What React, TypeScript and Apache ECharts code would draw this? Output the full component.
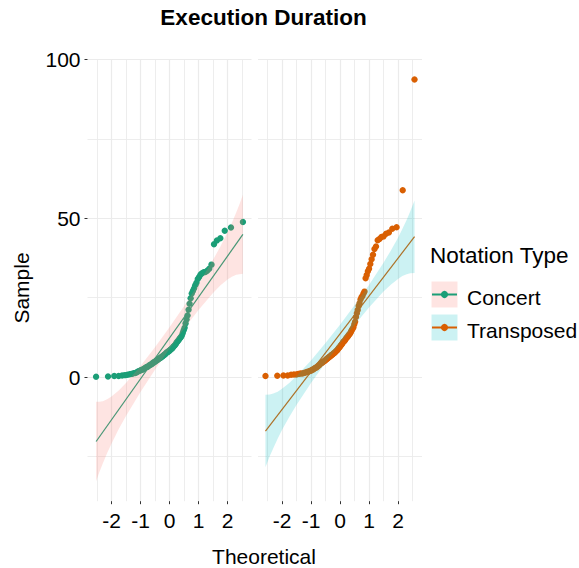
import React, { useEffect, useRef } from "react";
import * as echarts from "echarts";

// ---------- data ----------
const groups = ["Concert", "Transposed"];
const groupColors = ["#1B9E77", "#D95F02"];
const bandFills = ["#F8766D", "#00BFC4"];

// sorted sample values (y) of each QQ panel
const concertSample = [
  0.1, 0.2, 0.3, 0.3, 0.5, 0.6, 0.7, 0.9, 1.0, 1.2,
  1.3, 1.5, 1.8, 2.0, 2.2, 2.3, 2.6, 2.8, 3.1, 3.2,
  3.4, 3.7, 3.9, 4.0, 4.3, 4.6, 4.7, 4.9, 5.2, 5.3,
  5.5, 5.8, 5.9, 6.1, 6.4, 6.5, 6.7, 7.0, 7.1, 7.4,
  7.7, 7.8, 8.0, 8.3, 8.4, 8.7, 8.9, 9.1, 9.5, 9.8,
  10.0, 10.4, 10.9, 11.2, 11.5, 11.9, 12.3, 12.6, 13.1, 13.9,
  14.7, 15.5, 16.9, 18.1, 19.4, 21.2, 23.1, 24.8, 26.3, 27.1,
  27.9, 28.9, 29.7, 30.9, 31.5, 32.3, 32.7, 33.0, 33.1, 33.5,
  34.1, 35.4, 41.8, 43.0, 43.7, 46.1, 47.1, 48.8,
];
const transposedSample = [
  0.3, 0.4, 0.5, 0.5, 0.7, 0.8, 0.8, 1.0, 1.1, 1.1,
  1.3, 1.4, 1.6, 1.7, 1.9, 2.0, 2.3, 2.4, 2.7, 2.9,
  3.0, 3.3, 3.6, 3.8, 4.2, 4.4, 4.5, 4.8, 5.0, 5.1,
  5.4, 5.7, 5.8, 6.0, 6.3, 6.4, 6.6, 6.9, 7.0, 7.2,
  7.5, 7.6, 7.8, 8.1, 8.3, 8.5, 8.9, 9.2, 9.4, 9.8,
  10.1, 10.3, 10.7, 11.1, 11.3, 11.5, 11.9, 12.3, 12.5, 12.8,
  13.2, 13.5, 13.8, 14.3, 14.8, 15.2, 15.7, 16.6, 17.4, 18.9,
  20.1, 21.1, 22.4, 23.2, 24.4, 25.1, 25.5, 26.3, 26.9, 31.1,
  32.1, 33.3, 34.1, 35.6, 37.1, 38.5, 40.3, 41.1, 43.1, 43.5,
  44.1, 44.3, 45.1, 45.5, 46.7, 47.2, 58.8, 93.7,
];

// reference lines (theoretical endpoints, sample endpoints)
const concertLineX = [-2.53, 2.53];
const concertLineY = [-20.3, 44.9];
const transposedLineX = [-2.57, 2.57];
const transposedLineY = [-17.0, 44.2];

// confidence bands
const concertBandX = [-2.53, -2.42, -2.3, -2.15, -2, -1.75, -1.5, -1, -0.5, 0, 0.5, 1, 1.5, 1.75, 2, 2.15, 2.3, 2.42, 2.53];
const concertBandLow = [-32.8, -30.0, -27.2, -23.9, -21.0, -16.4, -12.3, -4.7, 2.3, 8.9, 15.2, 21.1, 26.5, 28.8, 30.7, 31.6, 32.2, 32.4, 32.5];
const concertBandHigh = [-7.8, -7.8, -7.6, -7.0, -6.1, -4.2, -1.9, 3.5, 9.4, 15.7, 22.3, 29.3, 36.9, 41.0, 45.6, 48.5, 51.8, 54.6, 57.4];
const transposedBandX = [-2.57, -2.42, -2.3, -2.15, -2, -1.75, -1.5, -1, -0.5, 0, 0.5, 1, 1.5, 1.75, 2, 2.15, 2.3, 2.42, 2.57];
const transposedBandLow = [-28.4, -24.9, -22.4, -19.4, -16.7, -12.6, -8.8, -1.9, 4.5, 10.6, 16.4, 21.9, 26.9, 29.1, 30.9, 31.8, 32.4, 32.7, 32.8];
const transposedBandHigh = [-5.6, -5.5, -5.2, -4.6, -3.7, -1.9, 0.3, 5.2, 10.7, 16.5, 22.6, 29.0, 36.0, 39.8, 43.9, 46.6, 49.5, 52.1, 55.6];

// axes
const xMajorTicks = [-2, -1, 0, 1, 2];
const xMinorTicks = [-2.5, -1.5, -0.5, 0.5, 1.5, 2.5];
const yMajorTicks = [0, 50, 100];
const yMinorTicks = [-25, 25, 75];
const xLimits = [-2.827, 2.827];
const yLimits = [-39.1, 100.0];

const titleText = "Execution Duration";
const xTitle = "Theoretical";
const yTitle = "Sample";
const legendTitle = "Notation Type";

// ---------- QQ stat: theoretical normal quantiles of ppoints(n) ----------
function qnorm(p: number): number {
  const a = [-3.969683028665376e1, 2.209460984245205e2, -2.759285104469687e2, 1.38357751867269e2, -3.066479806614716e1, 2.506628277459239];
  const b = [-5.447609879822406e1, 1.615858368580409e2, -1.556989798598866e2, 6.680131188771972e1, -1.328068155288572e1];
  const c = [-7.784894002430293e-3, -3.223964580411365e-1, -2.400758277161838, -2.549732539343734, 4.374664141464968, 2.938163982698783];
  const d = [7.784695709041462e-3, 3.224671290700398e-1, 2.445134137142996, 3.754408661907416];
  const plow = 0.02425;
  if (p < plow) {
    const q = Math.sqrt(-2 * Math.log(p));
    return (((((c[0] * q + c[1]) * q + c[2]) * q + c[3]) * q + c[4]) * q + c[5]) / ((((d[0] * q + d[1]) * q + d[2]) * q + d[3]) * q + 1);
  }
  if (p > 1 - plow) {
    const q = Math.sqrt(-2 * Math.log(1 - p));
    return -(((((c[0] * q + c[1]) * q + c[2]) * q + c[3]) * q + c[4]) * q + c[5]) / ((((d[0] * q + d[1]) * q + d[2]) * q + d[3]) * q + 1);
  }
  const q = p - 0.5;
  const r = q * q;
  return ((((((a[0] * r + a[1]) * r + a[2]) * r + a[3]) * r + a[4]) * r + a[5]) * q) / (((((b[0] * r + b[1]) * r + b[2]) * r + b[3]) * r + b[4]) * r + 1);
}
function qqPairs(sample: number[]): number[][] {
  const n = sample.length;
  return sample.map((v, i) => [qnorm((i + 1 - 0.5) / n), v]);
}

const FONT = '"Liberation Sans", Arial, Helvetica, sans-serif';
const GRID_LEFT = [87.5, 258];
const GRID_TOP = 59.5;
const GRID_W = 164;
const GRID_H = 441.7;
const GRIDLINE = "#EBEBEB";

export default function App() {
  const ref = useRef<HTMLDivElement>(null);

  useEffect(() => {
    if (!ref.current) return;
    const chart = echarts.init(ref.current, undefined, { renderer: "svg" });

    const samples = [concertSample, transposedSample];
    const lineXs = [concertLineX, transposedLineX];
    const lineYs = [concertLineY, transposedLineY];
    const bandXs = [concertBandX, transposedBandX];
    const bandLows = [concertBandLow, transposedBandLow];
    const bandHighs = [concertBandHigh, transposedBandHigh];

    const grid: any[] = [];
    const xAxis: any[] = [];
    const yAxis: any[] = [];
    const series: any[] = [];

    for (let g = 0; g < 2; g++) {
      grid.push({ left: GRID_LEFT[g], top: GRID_TOP, width: GRID_W, height: GRID_H, containLabel: false });
      // major x
      xAxis.push({
        type: "value", gridIndex: g, min: xLimits[0], max: xLimits[1], position: "bottom",
        axisLine: { show: false, onZero: false },
        axisTick: { show: true, customValues: xMajorTicks, length: 3, lineStyle: { color: "#333", width: 1 } },
        axisLabel: { show: true, customValues: xMajorTicks, fontSize: 21, color: "#000", fontFamily: FONT, margin: 9 },
        splitLine: { show: true, lineStyle: { color: GRIDLINE, width: 1.2 } },
      });
      // minor x
      xAxis.push({
        type: "value", gridIndex: g, min: xLimits[0], max: xLimits[1], position: "bottom",
        axisLine: { show: false, onZero: false },
        axisTick: { show: false, customValues: xMinorTicks },
        axisLabel: { show: false, customValues: xMinorTicks },
        splitLine: { show: true, lineStyle: { color: GRIDLINE, width: 0.9 } },
      });
      // major y
      yAxis.push({
        type: "value", gridIndex: g, min: yLimits[0], max: yLimits[1], position: "left",
        axisLine: { show: false, onZero: false },
        axisTick: { show: g === 0, customValues: yMajorTicks, length: 3, lineStyle: { color: "#333", width: 1 } },
        axisLabel: { show: g === 0, customValues: yMajorTicks, fontSize: 21, color: "#000", fontFamily: FONT, margin: 7 },
        splitLine: { show: true, lineStyle: { color: GRIDLINE, width: 1.2 } },
      });
      // minor y
      yAxis.push({
        type: "value", gridIndex: g, min: yLimits[0], max: yLimits[1], position: "left",
        axisLine: { show: false, onZero: false },
        axisTick: { show: false, customValues: yMinorTicks },
        axisLabel: { show: false, customValues: yMinorTicks },
        splitLine: { show: true, lineStyle: { color: GRIDLINE, width: 0.9 } },
      });

      const xi = g * 2;
      const yi = g * 2;
      series.push({
        name: groups[g], type: "scatter", xAxisIndex: xi, yAxisIndex: yi, z: 2,
        symbol: "circle", symbolSize: 6.4,
        itemStyle: { color: groupColors[g], opacity: 1 },
        data: qqPairs(samples[g]),
        silent: true,
      });
      series.push({
        name: groups[g] + " line", type: "line", xAxisIndex: xi, yAxisIndex: yi, z: 3,
        symbol: "none", showSymbol: false,
        lineStyle: { color: groupColors[g], width: 1.2 },
        data: lineXs[g].map((x, i) => [x, lineYs[g][i]]),
        silent: true,
      });
      const bx = bandXs[g];
      const blo = bandLows[g];
      const bhi = bandHighs[g];
      const fill = bandFills[g];
      series.push({
        name: groups[g] + " band", type: "custom", xAxisIndex: xi, yAxisIndex: yi, z: 4,
        silent: true,
        encode: { x: 0, y: [1, 2] },
        data: bx.map((x, i) => [x, blo[i], bhi[i]]),
        renderItem: (params: any, api: any) => {
          if (params.dataIndex !== 0) return null;
          const pts: number[][] = [];
          for (let i = 0; i < bx.length; i++) pts.push(api.coord([bx[i], bhi[i]]));
          for (let i = bx.length - 1; i >= 0; i--) pts.push(api.coord([bx[i], blo[i]]));
          return {
            type: "polygon",
            shape: { points: pts, smooth: 0 },
            style: { fill, opacity: 0.2, stroke: "none" },
          };
        },
      });
    }

    const textBase = { fontFamily: FONT, fill: "#000" };
    const legendKeyY = [294.5, 327.5];
    const legendGraphics: any[] = [];
    groups.forEach((name, i) => {
      const cy = legendKeyY[i];
      legendGraphics.push(
        { type: "rect", shape: { x: 431.5, y: cy - 13, width: 26, height: 26 }, style: { fill: bandFills[i], opacity: 0.2 } },
        { type: "line", shape: { x1: 432, y1: cy, x2: 457, y2: cy }, style: { stroke: groupColors[i], lineWidth: 2 } },
        { type: "circle", shape: { cx: 444.5, cy, r: 3.6 }, style: { fill: groupColors[i] } },
        { type: "text", x: 467, y: cy + 3, style: { ...textBase, text: name, fontSize: 21, align: "left", verticalAlign: "middle" } },
      );
    });

    chart.setOption({
      animation: false,
      textStyle: { fontFamily: FONT },
      grid,
      xAxis,
      yAxis,
      series,
      graphic: [
        { type: "text", x: 263.5, y: 17, style: { ...textBase, text: titleText, fontSize: 22.5, fontWeight: "bold", align: "center", verticalAlign: "middle" } },
        { type: "text", x: 264, y: 556, style: { ...textBase, text: xTitle, fontSize: 21, align: "center", verticalAlign: "middle" } },
        { type: "text", x: 21.5, y: 288, rotation: Math.PI / 2, style: { ...textBase, text: yTitle, fontSize: 21, align: "center", verticalAlign: "middle" } },
        { type: "text", x: 430, y: 255, style: { ...textBase, text: legendTitle, fontSize: 22.5, align: "left", verticalAlign: "middle" } },
        ...legendGraphics,
      ],
    });

    return () => chart.dispose();
  }, []);

  return <div ref={ref} style={{ position: "fixed", left: 0, top: 0, width: 579, height: 568, background: "#fff" }} />;
}
